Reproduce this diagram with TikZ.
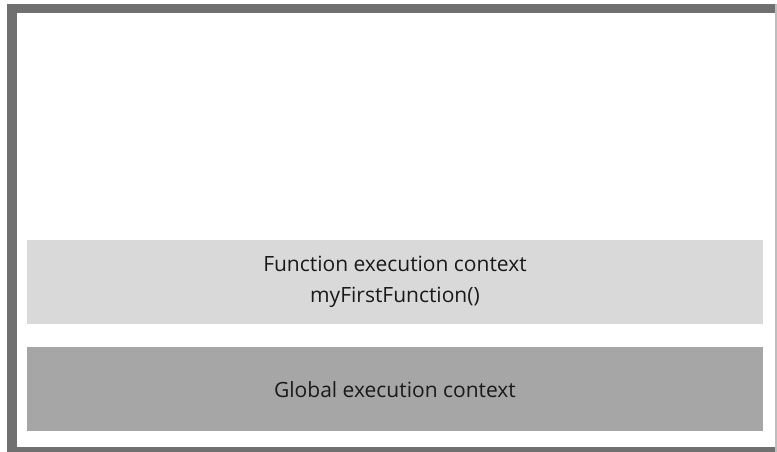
\documentclass[tikz,border=0pt]{standalone}
\usepackage{fontspec}
\setmainfont{Open Sans}
\usepackage{xcolor}
\usetikzlibrary{positioning}
\definecolor{corMoldura}{RGB}{112, 112, 112}
\definecolor{corBorda}{RGB}{190, 190, 190}
\definecolor{corClaro}{RGB}{217, 217, 217}
\definecolor{corEscuro}{RGB}{166, 166, 166}
\definecolor{corTexto}{RGB}{26, 26, 26}

\begin{document}
\begin{tikzpicture}[
    x=1pt, y=-1pt,
    ctx/.style={draw=none, minimum width=736pt, minimum height=84pt, inner sep=0pt,
                align=center, text=corTexto, font=\fontsize{21}{31}\selectfont},
    node distance=23pt
]
\useasboundingbox (0,0) rectangle (777,452);
% moldura
\fill[corMoldura] (7,4) rectangle (775,452);
\fill[corBorda] (775,4) rectangle (777,452);
\fill[white] (17,13) rectangle (775,447);

\node[ctx, fill=corClaro] (func) at (395,282) {Function execution context\\myFirstFunction()};
\node[ctx, fill=corEscuro, below=of func] (global) {Global execution context};
\end{tikzpicture}
\end{document}
